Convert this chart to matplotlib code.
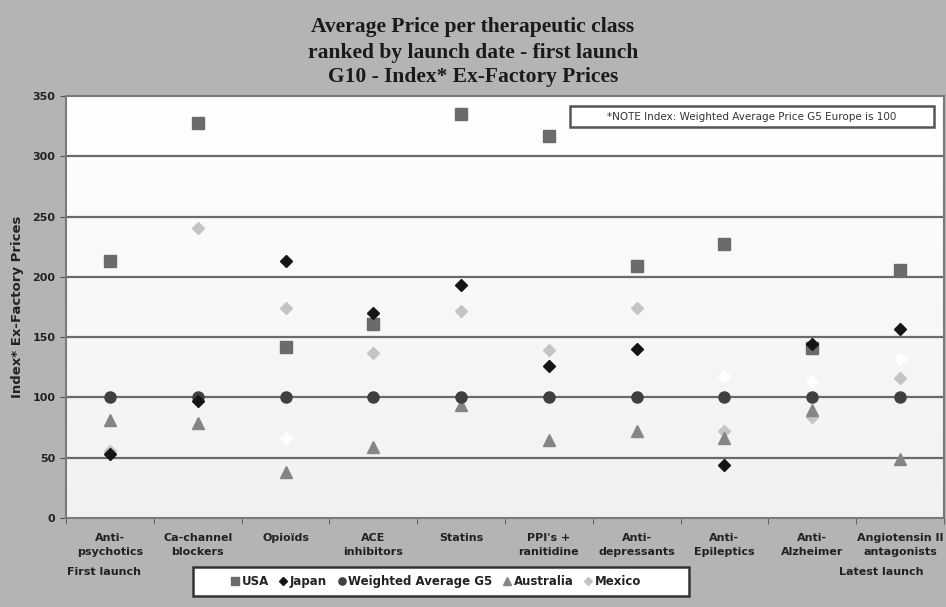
import matplotlib.pyplot as plt
import numpy as np
from matplotlib.colors import LinearSegmentedColormap
from matplotlib.patches import Rectangle

# Categories ranked by launch date
classes = ['Anti-\npsychotics', 'Ca-channel\nblockers', 'Opioïds', 'ACE\ninhibitors', 'Statins',
           "PPI's +\nranitidine", 'Anti-\ndepressants', 'Anti-\nEpileptics', 'Anti-\nAlzheimer',
           'Angiotensin II\nantagonists']

# Index values (G5 weighted average = 100)
usa = [213, 328, 142, 161, 335, 317, 209, 227, 141, 206]
japan = [53, 97, 213, 170, 193, 126, 140, 44, 144, 157]
g5 = [100, 100, 100, 100, 100, 100, 100, 100, 100, 100]
australia = [81, 79, 38, 59, 94, 65, 72, 66, 90, 49]
mexico = [56, 241, 174, 137, 172, 139, 174, 72, 84, 116]
# unlabelled white points
other = [np.nan, np.nan, 66, np.nan, np.nan, np.nan, np.nan, 118, 114, 132]

x = np.arange(len(classes))

fig = plt.figure(figsize=(9.46, 6.07), dpi=100)
fig.patch.set_facecolor('#b4b4b4')
ax = fig.add_axes([0.0698, 0.1466, 0.928, 0.695])

# light gradient background of the plot area
cmap = LinearSegmentedColormap.from_list('bg', ['#f1f1f1', '#ffffff'])
grad = np.linspace(0, 1, 256).reshape(-1, 1)
ax.imshow(grad, aspect='auto', cmap=cmap, origin='lower',
          extent=[-0.5, 9.5, 0, 350], zorder=0)

for yv in range(50, 350, 50):
    ax.axhline(yv, color='#6a6a6a', lw=1.6, zorder=1)

ax.plot(x, usa, 's', color='#6b6b6b', ms=8, ls='none', label='USA', zorder=3)
ax.plot(x, mexico, 'D', color='#c4c4c4', ms=6, ls='none', label='Mexico', zorder=3)
ax.plot(x, other, 'D', color='#ffffff', ms=6, ls='none', zorder=3)
ax.plot(x, australia, '^', color='#858585', ms=8, ls='none', label='Australia', zorder=3)
ax.plot(x, g5, 'o', color='#404040', ms=8, ls='none', label='Weighted Average G5', zorder=4)
ax.plot(x, japan, 'D', color='#151515', ms=6, ls='none', label='Japan', zorder=5)

ax.set_xlim(-0.5, 9.5)
ax.set_ylim(0, 350)
ax.set_yticks(range(0, 351, 50))
ax.set_xticks(x)
ax.set_xticklabels(classes, fontsize=8, fontweight='bold', color='#222222', linespacing=1.5)
ax.set_xticks(np.arange(-0.5, 10, 1), minor=True)
ax.tick_params(axis='x', which='major', length=0, pad=11)
ax.tick_params(axis='x', which='minor', length=4, color='#505050')
ax.tick_params(axis='y', length=4, color='#505050', labelsize=8, labelcolor='#222222')
for lab in ax.get_yticklabels():
    lab.set_fontweight('bold')

for s in ax.spines.values():
    s.set_color('#7a7a7a')
    s.set_linewidth(1.5)

ax.set_ylabel('Index* Ex-Factory Prices', fontsize=9.5, fontweight='bold', color='#222222')
ax.yaxis.set_label_coords(-0.048, 0.5)

fig.text(0.5, 0.955, 'Average Price per therapeutic class', ha='center', va='center',
         family='Liberation Serif', fontweight='bold', fontsize=15.5, color='#1a1a1a')
fig.text(0.5, 0.912, 'ranked by launch date - first launch', ha='center', va='center',
         family='Liberation Serif', fontweight='bold', fontsize=15.5, color='#1a1a1a')
fig.text(0.5, 0.873, 'G10 - Index* Ex-Factory Prices', ha='center', va='center',
         family='Liberation Serif', fontweight='bold', fontsize=15.5, color='#1a1a1a')

# note box
ax.add_patch(Rectangle((0.574, 0.9265), 0.4146, 0.0498, transform=ax.transAxes,
                       fc='white', ec='#555555', lw=1.8, zorder=6))
ax.text(0.781, 0.9515, '*NOTE Index: Weighted Average Price G5 Europe is 100', transform=ax.transAxes,
        ha='center', va='center', fontsize=7.5, color='#333333', zorder=7)

fig.text(0.110, 0.058, 'First launch', ha='center', va='center', fontsize=8, fontweight='bold', color='#222222')
fig.text(0.932, 0.058, 'Latest launch', ha='center', va='center', fontsize=8, fontweight='bold', color='#222222')

# legend box
fig.patches.append(Rectangle((193 / 946, 11 / 607), 496 / 946, 29 / 607, transform=fig.transFigure,
                             fc='white', ec='#333333', lw=1.8, zorder=1))
h, l = ax.get_legend_handles_labels()
order = ['USA', 'Japan', 'Weighted Average G5', 'Australia', 'Mexico']
hs = [h[l.index(n)] for n in order]
leg = fig.legend(hs, order, loc='center', bbox_to_anchor=(436 / 946, 25.5 / 607), ncol=5,
                 fontsize=8.5, markerscale=0.65, handlelength=0.7, handletextpad=0.2,
                 columnspacing=0.9, frameon=False)
leg.set_zorder(2)
for t in leg.get_texts():
    t.set_fontweight('bold')
    t.set_color('#222222')

fig.savefig('out.png', dpi=100, facecolor=fig.get_facecolor())
